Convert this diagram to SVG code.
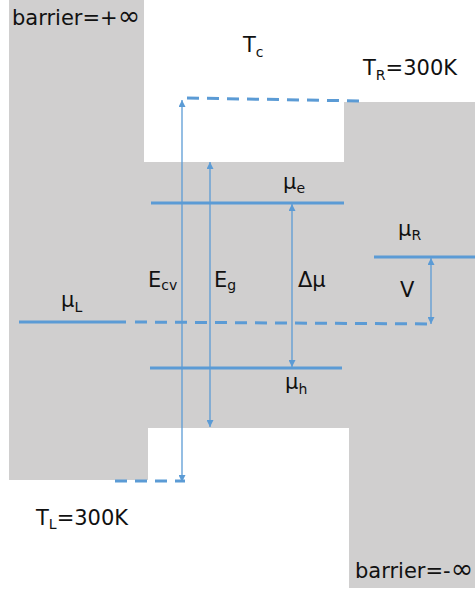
<svg xmlns="http://www.w3.org/2000/svg" width="475" height="592" viewBox="0 0 475 592">
  <style>
    .lbl { font-family: "DejaVu Sans", "Liberation Sans", sans-serif; font-size: 21px; fill: #111; }
    .sub { font-size: 14px; }
    .inf { font-size: 27px; }
    .lvl { stroke: #5b9bd5; stroke-width: 3; fill: none; }
    .dash { stroke: #5b9bd5; stroke-width: 3; fill: none; stroke-dasharray: 12 8; }
    .arr { stroke: #5b9bd5; stroke-width: 1.3; fill: none; marker-start: url(#ah); marker-end: url(#ah); }
  </style>
  <defs>
    <marker id="ah" viewBox="0 0 10 10" refX="10" refY="5" markerUnits="userSpaceOnUse" markerWidth="8" markerHeight="7" orient="auto-start-reverse">
      <path d="M0,0 L10,5 L0,10 Z" fill="#5b9bd5"/>
    </marker>
  </defs>
  <rect width="475" height="592" fill="#ffffff"/>

  <g id="regions">
    <polygon points="9,0 144,0 144,162 344,162 344,102 475,102 475,588 349,588 349,428 148,428 148,480 9,480" fill="#d0cfcf"/>
  </g>

  <g id="levels">
    <line id="mu-e" class="lvl" x1="151" y1="203" x2="344" y2="203"/>
    <line id="mu-h" class="lvl" x1="150" y1="368" x2="342" y2="368"/>
    <line id="mu-L" class="lvl" x1="19" y1="322" x2="126" y2="322"/>
    <line id="mu-R" class="lvl" x1="374" y1="257" x2="475" y2="257"/>
    <line id="mu-L-ext" class="dash" x1="135" y1="322" x2="434" y2="324"/>
    <line id="Ec-level" class="dash" x1="187" y1="98" x2="363" y2="101"/>
    <line id="Ev-level" class="dash" x1="115" y1="481" x2="185" y2="481"/>
  </g>

  <g id="connectors">
    <line id="arrow-Ecv" class="arr" x1="182" y1="100" x2="182" y2="482"/>
    <line id="arrow-Eg" class="arr" x1="210" y1="162" x2="210" y2="427"/>
    <line id="arrow-dmu" class="arr" x1="292" y1="204" x2="292" y2="367"/>
    <line id="arrow-V" class="arr" x1="431" y1="258" x2="431" y2="324"/>
  </g>

  <g id="labels">
    <text id="t-barrier-top" class="lbl" x="12" y="25">barrier=+<tspan class="inf">∞</tspan></text>
    <text id="t-Tc" class="lbl" x="243" y="52">T<tspan class="sub" dy="5">c</tspan></text>
    <text id="t-TR" class="lbl" x="363" y="75">T<tspan class="sub" dy="5">R</tspan><tspan dy="-5">=300K</tspan></text>
    <text id="t-mue" class="lbl" x="283" y="189">μ<tspan class="sub" dy="4">e</tspan></text>
    <text id="t-muR" class="lbl" x="398" y="236">μ<tspan class="sub" dy="4">R</tspan></text>
    <text id="t-Ecv" class="lbl" x="148" y="287">E<tspan class="sub" dy="3">cv</tspan></text>
    <text id="t-Eg" class="lbl" x="214" y="287">E<tspan class="sub" dy="3">g</tspan></text>
    <text id="t-dmu" class="lbl" x="298" y="287">Δμ</text>
    <text id="t-V" class="lbl" x="400" y="297">V</text>
    <text id="t-muL" class="lbl" x="61" y="307">μ<tspan class="sub" dy="5">L</tspan></text>
    <text id="t-muh" class="lbl" x="285" y="389">μ<tspan class="sub" dy="5">h</tspan></text>
    <text id="t-TL" class="lbl" x="36" y="525">T<tspan class="sub" dy="4">L</tspan><tspan dy="-4">=300K</tspan></text>
    <text id="t-barrier-bot" class="lbl" x="355" y="578">barrier=-<tspan class="inf">∞</tspan></text>
  </g>
</svg>
